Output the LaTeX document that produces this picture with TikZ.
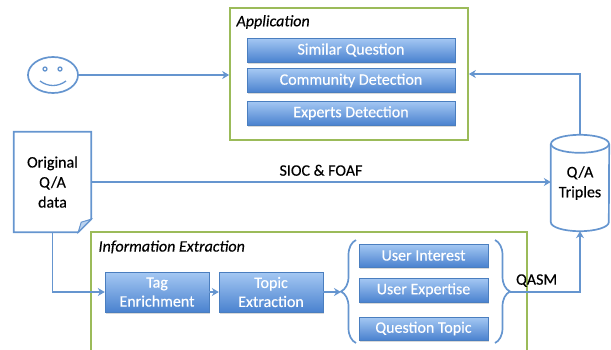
\documentclass[tikz,border=0pt]{standalone}
\usepackage{fontspec}
\setmainfont{Carlito}[UprightFeatures={FakeBold=0.35}, ItalicFeatures={FakeBold=0.35}]
\usetikzlibrary{arrows.meta, positioning, calc, shapes.geometric, decorations.pathreplacing, shadows}

\definecolor{lineblue}{HTML}{6595CF}
\definecolor{btntop}{HTML}{A5C8F3}
\definecolor{btnbot}{HTML}{4A82CF}
\definecolor{btnedge}{HTML}{4A7EBF}
\definecolor{boxgreen}{HTML}{9BBB59}
\definecolor{foldblue}{HTML}{BCD3EE}

\tikzset{
  flow/.style={draw=lineblue, line width=1.7pt, -{Stealth[length=7pt,width=8pt]}},
  outline/.style={draw=lineblue, line width=1.7pt},
  btn/.style={rectangle, draw=btnedge, line width=0.4pt, top color=btntop, bottom color=btnbot,
    text=white, align=center, inner sep=0pt, font=\fontsize{16}{19}\selectfont,
    drop shadow={shadow xshift=1pt, shadow yshift=-1.5pt, opacity=0.3}},
  group/.style={draw=boxgreen, line width=1.7pt, inner sep=0pt},
  grouplabel/.style={anchor=west, font=\itshape\fontsize{16}{19}\selectfont},
  plain/.style={align=center, font=\fontsize{16}{20}\selectfont},
}

\begin{document}
\begin{tikzpicture}[x=1pt, y=-1pt]
\useasboundingbox (0,0) rectangle (611,349);

% application block
\node[group, minimum width=238, minimum height=132] (app) at (349,74) {};
\node[grouplabel] (applabel) at (233,22) {Application};
\node[btn, minimum width=208, minimum height=24] (simq) at (351,50) {Similar Question};
\node[btn, minimum width=208, minimum height=24] (comm) at (351,80.5) {Community Detection};
\node[btn, minimum width=208, minimum height=24] (expd) at (351,113) {Experts Detection};

% user
\node[ellipse, outline, minimum width=50, minimum height=36] (user) at (53,75) {};
\draw[outline, line width=1.3pt] ($(user)+(-8,-6)$) circle (2pt) ($(user)+(7,-6)$) circle (2pt);
\draw[outline, line width=1.3pt] ($(user)+(-13,6)$) .. controls ($(user)+(-5,12)$) and ($(user)+(5,12)$) .. ($(user)+(13,6)$);

% source document
\node[plain, minimum width=77, minimum height=100] (doc) at (52.5,182) {Original\\Q/A\\data};
\draw[outline] (doc.north west) -- (doc.north east) -- ([yshift=13pt]doc.south east)
  -- ([xshift=-13pt]doc.south east) -- (doc.south west) -- cycle;
\filldraw[outline, line width=1pt, fill=foldblue] ([yshift=13pt]doc.south east)
  -- ([xshift=-10pt, yshift=10pt]doc.south east) -- ([xshift=-13pt]doc.south east) -- cycle;

% triple store
\node[plain, minimum width=58, minimum height=96] (store) at (580,183) {Q/A\\Triples};
\draw[outline] ([yshift=-9pt]store.north) ellipse [x radius=29pt, y radius=9pt];
\draw[outline] ([yshift=-9pt]store.north west) -- ([yshift=9pt]store.south west)
  arc[start angle=180, end angle=360, x radius=29pt, y radius=9pt] -- ([yshift=-9pt]store.north east);

% information extraction block
\node[group, minimum width=436, minimum height=135] (ie) at (309,299.5) {};
\node[grouplabel] (ielabel) at (95,247) {Information Extraction};
\node[btn, minimum width=104, minimum height=40] (tag) at (157,292) {Tag\\Enrichment};
\node[btn, minimum width=104, minimum height=40] (topic) at (271,292) {Topic\\Extraction};
\node[btn, minimum width=129, minimum height=23] (uint) at (423.5,255.5) {User Interest};
\node[btn, minimum width=129, minimum height=24] (uexp) at (423.5,290) {User Expertise};
\node[btn, minimum width=129, minimum height=23] (qtop) at (423.5,328.5) {Question Topic};
\draw[outline, decorate, decoration={brace, amplitude=15pt}] (356,343) -- (356,240);
\draw[outline, decorate, decoration={brace, amplitude=15pt}] (495,240) -- (495,343);
\coordinate (lb) at (341,292);
\coordinate (rb) at (510,292);

% connectors
\draw[flow] (user.east) -- (user.east -| app.west);
\draw[flow] (doc.east) -- (doc.east -| store.west) node[plain, midway, above=2pt] (sioc) {SIOC \& FOAF};
\draw[flow] (store.north) |- (app.east);
\draw[flow] (doc.south) |- (tag.west);
\draw[flow] (tag) -- (topic);
\draw[flow] (topic) -- (lb);
\draw[flow] (rb) -| (store.south) node[plain, pos=0.19, above=1pt] (qasm) {QASM};
\end{tikzpicture}
\end{document}
